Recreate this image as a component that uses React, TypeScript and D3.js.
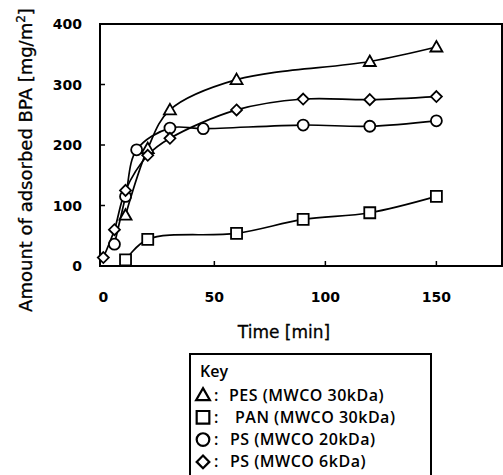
import React, { useEffect, useRef } from 'react';
import * as d3 from 'd3';

// Time [min] and adsorbed amount [mg/m2]
const pesTime = [10, 20, 30, 60, 120, 150];
const pesValue = [84, 194, 258, 308, 338, 362];

const panTime = [10, 20, 60, 90, 120, 150];
const panValue = [10, 44, 54, 77, 88, 115];

const ps20Time = [5, 10, 15, 30, 45, 90, 120, 150];
const ps20Value = [36, 115, 192, 228, 227, 233, 231, 240];

const ps6Time = [0, 5, 10, 20, 30, 60, 90, 120, 150];
const ps6Value = [14, 60, 125, 183, 211, 258, 276, 275, 280];

const xTicks = [0, 50, 100, 150];
const yTicks = [0, 100, 200, 300, 400];

const legendLabels = ['PES (MWCO 30kDa)', 'PAN (MWCO 30kDa)', 'PS (MWCO 20kDa)', 'PS (MWCO 6kDa)'];

const W = 503;
const H = 475;

function App() {
  const ref = useRef<SVGSVGElement>(null);

  useEffect(() => {
    if (!ref.current) return;
    const svg = d3.select(ref.current);
    svg.selectAll('*').remove();

    const plot = { left: 100, top: 24, right: 502, bottom: 266 };

    const x = d3.scaleLinear().domain([-1.5, 180]).range([plot.left, plot.right + 1]);
    const y = d3.scaleLinear().domain([0, 400]).range([plot.bottom, plot.top]);

    const series = [
      { time: pesTime, value: pesValue, shape: 'triangle' },
      { time: panTime, value: panValue, shape: 'square' },
      { time: ps20Time, value: ps20Value, shape: 'circle' },
      { time: ps6Time, value: ps6Value, shape: 'diamond' },
    ];

    const symbolPath = (shape: string, k = 1) => {
      if (shape === 'triangle') return `M0,${-6 * k}L${6 * k},${4.5 * k}L${-6 * k},${4.5 * k}Z`;
      if (shape === 'square') return `M${-5.5 * k},${-5.5 * k}H${5.5 * k}V${5.5 * k}H${-5.5 * k}Z`;
      if (shape === 'diamond') return `M0,${-5.5 * k}L${5.5 * k},0L0,${5.5 * k}L${-5.5 * k},0Z`;
      return d3.symbol().type(d3.symbolCircle).size(Math.PI * 5.5 * 5.5 * k * k)()!;
    };

    // frame
    svg.append('rect')
      .attr('x', plot.left)
      .attr('y', plot.top)
      .attr('width', plot.right - plot.left)
      .attr('height', plot.bottom - plot.top)
      .attr('fill', 'none')
      .attr('stroke', '#000')
      .attr('stroke-width', 2);

    // inward ticks
    svg.append('g')
      .selectAll('line')
      .data(xTicks.filter(d => d > 0))
      .enter()
      .append('line')
      .attr('x1', d => x(d))
      .attr('x2', d => x(d))
      .attr('y1', plot.bottom)
      .attr('y2', plot.bottom - 5)
      .attr('stroke', '#000')
      .attr('stroke-width', 1.5);

    svg.append('g')
      .selectAll('line')
      .data(yTicks.filter(d => d > 0 && d < 400))
      .enter()
      .append('line')
      .attr('x1', plot.left)
      .attr('x2', plot.left + 5)
      .attr('y1', d => y(d))
      .attr('y2', d => y(d))
      .attr('stroke', '#000')
      .attr('stroke-width', 1.5);

    // tick labels
    svg.append('g')
      .selectAll('text')
      .data(xTicks)
      .enter()
      .append('text')
      .attr('x', d => x(d))
      .attr('y', 302)
      .attr('text-anchor', 'middle')
      .style('font-family', 'DejaVu Sans')
      .style('font-weight', 'bold')
      .style('font-size', '14px')
      .text(d => d);

    svg.append('g')
      .selectAll('text')
      .data(yTicks)
      .enter()
      .append('text')
      .attr('x', 82)
      .attr('y', d => y(d) + 5)
      .attr('text-anchor', 'end')
      .style('font-family', 'DejaVu Sans')
      .style('font-weight', 'bold')
      .style('font-size', '14px')
      .text(d => d);

    // axis titles
    svg.append('text')
      .attr('x', 284)
      .attr('y', 338)
      .attr('text-anchor', 'middle')
      .style('font-family', 'DejaVu Sans')
      .style('font-size', '17px')
      .style('stroke', '#000')
      .style('stroke-width', 0.3)
      .text('Time [min]');

    const yTitle = svg.append('text')
      .attr('transform', 'translate(32,160) rotate(-90)')
      .attr('text-anchor', 'middle')
      .style('font-family', 'DejaVu Sans')
      .style('font-size', '18px')
      .style('stroke', '#000')
      .style('stroke-width', 0.3);
    yTitle.append('tspan').text('Amount of adsorbed BPA [mg/m');
    yTitle.append('tspan').attr('dy', -7).style('font-size', '12px').text('2');
    yTitle.append('tspan').attr('dy', 7).text(']');

    // curves
    const line = d3.line<[number, number]>()
      .x(d => x(d[0]))
      .y(d => y(d[1]))
      .curve(d3.curveCatmullRom.alpha(0.5));

    series.forEach(s => {
      const pts = s.time.map((t, i) => [t, s.value[i]] as [number, number]);
      svg.append('path')
        .attr('d', line(pts))
        .attr('fill', 'none')
        .attr('stroke', '#000')
        .attr('stroke-width', 1.7);
    });

    // markers
    series.forEach(s => {
      svg.append('g')
        .selectAll('path')
        .data(s.time.map((t, i) => [t, s.value[i]]))
        .enter()
        .append('path')
        .attr('d', symbolPath(s.shape))
        .attr('transform', d => `translate(${x(d[0])},${y(d[1])})`)
        .attr('fill', '#fff')
        .attr('stroke', '#000')
        .attr('stroke-width', 1.8);
    });

    // key box
    svg.append('rect')
      .attr('x', 190)
      .attr('y', 354)
      .attr('width', 241)
      .attr('height', 140)
      .attr('fill', 'none')
      .attr('stroke', '#000')
      .attr('stroke-width', 2);

    const legendFont = 'Open Sans';
    svg.append('text')
      .attr('x', 200)
      .attr('y', 377)
      .style('font-family', legendFont)
      .style('font-weight', 600)
      .style('font-size', '16px')
      .text('Key');

    const labelX = [229, 235, 230, 230];
    series.forEach((s, i) => {
      const cy = 395 + i * 22.3;
      svg.append('path')
        .attr('d', symbolPath(s.shape, 1.15))
        .attr('transform', `translate(203,${cy})`)
        .attr('fill', '#fff')
        .attr('stroke', '#000')
        .attr('stroke-width', 2.2);
      svg.append('text')
        .attr('x', 214)
        .attr('y', cy + 5.5)
        .style('font-family', legendFont)
        .style('font-weight', 600)
        .style('font-size', '16px')
        .text(':');
      svg.append('text')
        .attr('x', labelX[i])
        .attr('y', cy + 5.5)
        .style('font-family', legendFont)
        .style('font-weight', 600)
        .style('font-size', '16px')
        .style('letter-spacing', '0.5px')
        .text(legendLabels[i]);
    });
  }, []);

  return (
    <div>
      <style>{'body { margin: 0; background: #fff; }'}</style>
      <svg ref={ref} width={W} height={H} style={{ display: 'block' }} />
    </div>
  );
}

export default App;
